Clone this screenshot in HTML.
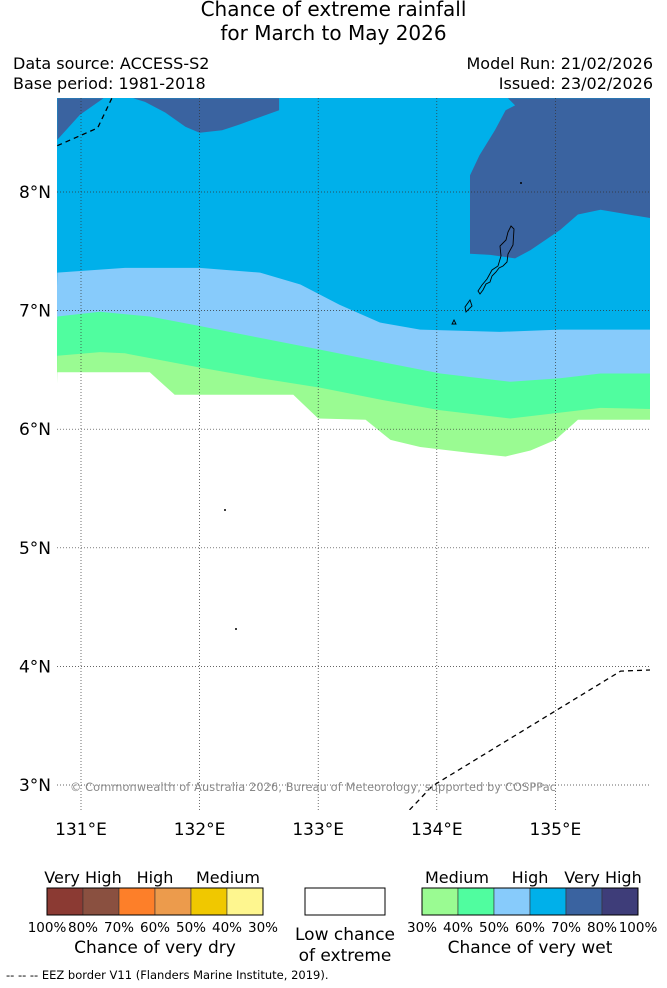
<!DOCTYPE html>
<html><head><meta charset="utf-8"><style>
body{margin:0;background:#fff;width:667px;height:988px;overflow:hidden;font-family:"DejaVu Sans","Liberation Sans",sans-serif;}
.t{position:absolute;white-space:nowrap;color:#000}
</style></head><body>
<div class="t" style="left:0;width:667px;text-align:center;top:-3px;font-size:20px;line-height:24px">Chance of extreme rainfall<br>for March to May 2026</div>
<div class="t" style="left:13px;top:54px;font-size:16px">Data source: ACCESS-S2</div>
<div class="t" style="left:13px;top:74px;font-size:16px">Base period: 1981-2018</div>
<div class="t" style="right:14px;top:54px;font-size:16px">Model Run: 21/02/2026</div>
<div class="t" style="right:14px;top:74px;font-size:16px">Issued: 23/02/2026</div>
<svg id="map" width="667" height="988" style="position:absolute;left:0;top:0"></svg>
<script>
const lonTicks=[131,132,133,134,135];
const latTicks=[3,4,5,6,7,8];
const bLightBlue=[[130.80,7.32],[131.37,7.36],[132.00,7.36],[132.51,7.32],[132.85,7.22],[133.18,7.05],[133.52,6.90],[133.86,6.84],[134.53,6.82],[135.04,6.84],[135.80,6.84]];
const bGreen=[[130.80,6.95],[131.16,6.99],[131.58,6.95],[132.00,6.87],[132.51,6.77],[133.02,6.67],[133.52,6.57],[134.03,6.47],[134.62,6.40],[135.04,6.43],[135.38,6.47],[135.80,6.47]];
const bLightGreen=[[130.80,6.62],[131.16,6.65],[131.37,6.64],[132.00,6.52],[132.51,6.43],[133.02,6.35],[133.52,6.25],[134.03,6.16],[134.62,6.09],[135.04,6.14],[135.38,6.18],[135.80,6.17]];
const bWhite=[[130.80,6.48],[131.58,6.48],[131.79,6.29],[132.79,6.29],[133.00,6.09],[133.40,6.08],[133.61,5.91],[133.86,5.85],[134.28,5.80],[134.58,5.77],[134.79,5.82],[135.00,5.91],[135.19,6.08],[135.80,6.08]];
const dbLeft=[[130.80,8.79],[131.19,8.79],[130.99,8.65],[130.80,8.44]];
const dbMid=[[131.44,8.79],[132.67,8.79],[132.67,8.69],[132.34,8.57],[132.19,8.52],[132.00,8.50],[131.88,8.55],[131.71,8.67],[131.54,8.76]];
const dbRight=[[134.60,8.79],[135.80,8.79],[135.80,7.78],[135.38,7.85],[135.19,7.81],[135.04,7.68],[134.79,7.51],[134.66,7.44],[134.45,7.47],[134.28,7.48],[134.28,8.14],[134.36,8.31],[134.49,8.52],[134.58,8.69],[134.66,8.73]];
const eez1=[[130.80,8.39],[131.14,8.54],[131.26,8.79]];
const eez2=[[133.77,2.79],[133.96,2.99],[135.55,3.96],[135.80,3.97]];
const X=lon=>81+(lon-131)*118.6, Y=lat=>192-(lat-8)*118.6;
const L=57,R=650,T=98,B=810;
const svg=document.getElementById('map');const NS='http://www.w3.org/2000/svg';
function mk(tag,attrs,name){const e=document.createElementNS(NS,tag);for(const k in attrs)e.setAttribute(k,attrs[k]);


svg.appendChild(e);return e;}
const pts=a=>a.map(p=>X(p[0]).toFixed(1)+','+Y(p[1]).toFixed(1)).join(' ');
const cp=mk('clipPath',{id:'c'},'map-clip');const cr=document.createElementNS(NS,'rect');cr.setAttribute('x',L);cr.setAttribute('y',T);cr.setAttribute('width',R-L);cr.setAttribute('height',B-T);cp.appendChild(cr);
const g=mk('g',{'clip-path':'url(#c)'},'map-layers');
function poly(a,fill,name){const p=mk('polygon',{points:pts(a),fill:fill},name);g.appendChild(p);}
const bg=mk('rect',{x:L,y:T,width:R-L,height:B-T,fill:'#00b0ea'},'region-60-70');g.appendChild(bg);
poly(dbLeft,'#3a63a0','region-70-80-left');poly(dbMid,'#3a63a0','region-70-80-mid');poly(dbRight,'#3a63a0','region-70-80-right');
const bot=[[135.9,2.7],[130.7,2.7]];
poly(bLightBlue.concat(bot),'#87cbfb','region-50-60');
poly(bGreen.concat(bot),'#50fd9f','region-40-50');
poly(bLightGreen.concat(bot),'#9afb92','region-30-40');
poly(bWhite.concat(bot),'#ffffff','region-low-chance');
lonTicks.forEach(v=>{const l=mk('line',{x1:X(v),x2:X(v),y1:T,y2:B,stroke:'#333','stroke-width':0.7,'stroke-dasharray':'1,2'},'lon-gridline');g.appendChild(l);
const t=mk('text',{x:X(v),y:835,'font-size':17,'text-anchor':'middle','font-family':'DejaVu Sans,Liberation Sans,sans-serif'},'lon-tick-label');t.textContent=v+'°E';});
latTicks.forEach(v=>{const l=mk('line',{x1:L,x2:R,y1:Y(v),y2:Y(v),stroke:'#333','stroke-width':0.7,'stroke-dasharray':'1,2'},'lat-gridline');g.appendChild(l);
const t=mk('text',{x:51,y:Y(v)+6,'font-size':17,'text-anchor':'end','font-family':'DejaVu Sans,Liberation Sans,sans-serif'},'lat-tick-label');t.textContent=v+'°N';});
[eez1,eez2].forEach(a=>{const l=mk('polyline',{points:pts(a),fill:'none',stroke:'#000','stroke-width':1.3,'stroke-dasharray':'5,4'},'eez-border');g.appendChild(l);});
const isl=mk('path',{d:'M511,226 L514,229 L513,245 L508,254 L507,262 L503,266 L499,268 L496,272 L492,276 L490,282 L486,284 L483,290 L480,294 L478,291 L482,285 L487,279 L492,270 L498,266 L501,256 L500,246 L506,240 L508,232 Z M470,300 L472,306 L466,312 L465,307 Z M454,320 L456,324 L452,324 Z',fill:'none',stroke:'#000','stroke-width':0.9},'palau-islands');g.appendChild(isl);
[[225,510],[236,629],[521,183]].forEach(p=>{const c=mk('circle',{cx:p[0],cy:p[1],r:1,fill:'#000'},'small-island');g.appendChild(c);});
const cpy=mk('text',{x:313,y:791,'font-size':11.3,fill:'#888','text-anchor':'middle','font-family':'DejaVu Sans,Liberation Sans,sans-serif',textLength:486},'copyright-text');cpy.textContent='© Commonwealth of Australia 2026, Bureau of Meteorology, supported by COSPPac';
const dryColors=['#8b3a33','#8a5040','#fd7f29','#ec9b4c','#f0c800','#fef68f'];
const wetColors=['#9afb92','#50fd9f','#87cbfb','#00b0ea','#3a63a0','#3e3d79'];
const dryLabels=['100%','80%','70%','60%','50%','40%','30%'];
const wetLabels=['30%','40%','50%','60%','70%','80%','100%'];
function legend(x0,cols,labels,nm){cols.forEach((c,i)=>mk('rect',{x:x0+i*36,y:888,width:36,height:27,fill:c,stroke:'#333','stroke-width':0.6},nm+'-swatch'));
mk('rect',{x:x0,y:888,width:216,height:27,fill:'none',stroke:'#000','stroke-width':1},nm+'-frame');
labels.forEach((s,i)=>{const t=mk('text',{x:x0+i*36,y:932,'font-size':13.5,'text-anchor':'middle','font-family':'DejaVu Sans,Liberation Sans,sans-serif'},nm+'-tick');t.textContent=s;});}
legend(47,dryColors,dryLabels,'dry-legend');legend(422,wetColors,wetLabels,'wet-legend');
mk('rect',{x:305,y:888,width:80,height:27,fill:'#fff',stroke:'#000','stroke-width':1},'low-chance-swatch');
function txt(x,y,s,fs,nm){const t=mk('text',{x:x,y:y,'font-size':fs,'text-anchor':'middle','font-family':'DejaVu Sans,Liberation Sans,sans-serif'},nm);t.textContent=s;}
txt(83,883,'Very High',16,'dry-very-high');txt(155,883,'High',16,'dry-high');txt(228,883,'Medium',16,'dry-medium');
txt(457,883,'Medium',16,'wet-medium');txt(530,883,'High',16,'wet-high');txt(603,883,'Very High',16,'wet-very-high');
txt(155,953,'Chance of very dry',17,'dry-legend-title');txt(530,953,'Chance of very wet',17,'wet-legend-title');
txt(345,940,'Low chance',17,'low-chance-label');txt(345,961,'of extreme',17,'low-chance-label-2');
const f=mk('text',{x:6,y:979,'font-size':11.5,'font-family':'DejaVu Sans,Liberation Sans,sans-serif'},'eez-footnote');f.textContent='--  --  -- EEZ border V11 (Flanders Marine Institute, 2019).';
</script>
</body></html>
